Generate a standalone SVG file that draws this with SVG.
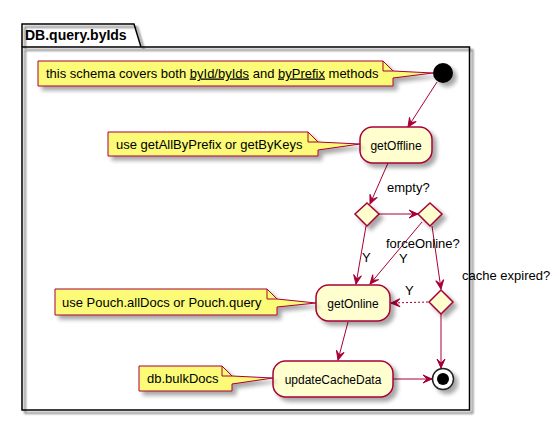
<svg xmlns="http://www.w3.org/2000/svg" width="559" height="423" viewBox="0 0 559 423">
<defs>
<filter id="sh" x="-20%" y="-20%" width="150%" height="160%">
<feGaussianBlur in="SourceAlpha" stdDeviation="2"/>
<feOffset dx="4" dy="4" result="b"/>
<feComponentTransfer><feFuncA type="linear" slope="0.35"/></feComponentTransfer>
<feMerge><feMergeNode/><feMergeNode in="SourceGraphic"/></feMerge>
</filter>
<filter id="shf" x="-5%" y="-5%" width="110%" height="110%">
<feGaussianBlur in="SourceAlpha" stdDeviation="1"/>
<feOffset dx="3" dy="3" result="b"/>
<feComponentTransfer><feFuncA type="linear" slope="0.6"/></feComponentTransfer>
<feMerge><feMergeNode/><feMergeNode in="SourceGraphic"/></feMerge>
</filter>
<marker id="ah" viewBox="-10 -5 11 10" refX="0" refY="0" markerWidth="11" markerHeight="10" markerUnits="userSpaceOnUse" orient="auto">
<path d="M0,0 L-9,-4 L-5,0 L-9,4 Z" fill="#A80036" stroke="#A80036" stroke-width="1"/>
</marker>
</defs>
<style>
text{font-family:"Liberation Sans",Arial,sans-serif;fill:#000}
.act{fill:#FEFECE;stroke:#A80036;stroke-width:1.5}
.note{fill:#FBFB77;stroke:#A80036;stroke-width:1}
.fold{fill:none;stroke:#A80036;stroke-width:1}
.c{fill:none;stroke:#A80036;stroke-width:1}
.dash{stroke-dasharray:2,2}
.t12{font-size:12px}
.t13{font-size:13px}
.u{text-decoration:underline}
</style>
<rect width="559" height="423" fill="#fff"/>
<g id="package">
<path d="M22,47 L22,24 L134,24 L141,47" fill="none" stroke="#000" stroke-width="1.5" filter="url(#shf)"/>
<rect x="22" y="47" width="447.5" height="363" fill="none" stroke="#000" stroke-width="1.5" filter="url(#shf)"/>
<text x="25" y="40" style="font-size:14px;font-weight:bold">DB.query.byIds</text>
</g>
<g id="connectors">
<line class="c" x1="437" y1="82" x2="408" y2="127" marker-end="url(#ah)"/>
<line class="c" x1="388" y1="163" x2="370" y2="204" marker-end="url(#ah)"/>
<line class="c" x1="379" y1="214" x2="418" y2="214" marker-end="url(#ah)"/>
<line class="c" x1="366" y1="226" x2="356" y2="284" marker-end="url(#ah)"/>
<line class="c" x1="422" y1="222" x2="370" y2="284" marker-end="url(#ah)"/>
<line class="c" x1="432" y1="226" x2="441" y2="289" marker-end="url(#ah)"/>
<line class="c dash" x1="428" y1="302" x2="391" y2="303" marker-end="url(#ah)"/>
<line class="c" x1="441" y1="314" x2="441" y2="368" marker-end="url(#ah)"/>
<line class="c" x1="348" y1="322" x2="338" y2="360" marker-end="url(#ah)"/>
<line class="c" x1="393" y1="379" x2="432" y2="379" marker-end="url(#ah)"/>
<text class="t13" x="387" y="192">empty?</text>
<text class="t13" x="362" y="262">Y</text>
<text class="t13" x="386" y="247.5">forceOnline?</text>
<text class="t13" x="399" y="263">Y</text>
<text class="t13" x="462" y="280">cache expired?</text>
<text class="t13" x="405" y="295">Y</text>
</g>
<g id="start">
<circle cx="443" cy="73" r="10" fill="#000" filter="url(#sh)"/>
</g>
<g id="note1">
<path class="note" filter="url(#sh)" d="M38,61 L383,61 L393,71 L433,73 L393,78 L393,86 L38,86 Z"/>
<path class="fold" d="M383,61 L383,71 L393,71"/>
<text class="t13" x="46" y="77.5">this schema covers both <tspan class="u">byId/byIds</tspan> and <tspan class="u">byPrefix</tspan> methods</text>
</g>
<g id="getOffline">
<rect class="act" filter="url(#sh)" x="360" y="127" width="72" height="36" rx="12.5"/>
<text class="t12" x="396" y="149.5" text-anchor="middle">getOffline</text>
</g>
<g id="note2">
<path class="note" filter="url(#sh)" d="M108,132 L308,132 L318,142 L360,144 L318,150 L318,156 L108,156 Z"/>
<path class="fold" d="M308,132 L308,142 L318,142"/>
<text class="t13" x="116" y="149">use getAllByPrefix or getByKeys</text>
</g>
<g id="d1">
<polygon class="act" filter="url(#sh)" points="367,203 379,214 367,226 355,214"/>
</g>
<g id="d2">
<polygon class="act" filter="url(#sh)" points="430,203 442,214 430,226 418,214"/>
</g>
<g id="d3">
<polygon class="act" filter="url(#sh)" points="441,290 453,302 441,314 429,302"/>
</g>
<g id="getOnline">
<rect class="act" filter="url(#sh)" x="316" y="285" width="74" height="36" rx="12.5"/>
<text class="t12" x="353" y="307.5" text-anchor="middle">getOnline</text>
</g>
<g id="note3">
<path class="note" filter="url(#sh)" d="M55,289 L267,289 L277,299 L316,303 L277,307 L277,315 L55,315 Z"/>
<path class="fold" d="M267,289 L267,299 L277,299"/>
<text class="t13" x="62" y="307">use Pouch.allDocs or Pouch.query</text>
</g>
<g id="updateCacheData">
<rect class="act" filter="url(#sh)" x="273" y="361" width="120" height="36" rx="12.5"/>
<text class="t12" x="333" y="383.5" text-anchor="middle">updateCacheData</text>
</g>
<g id="note4">
<path class="note" filter="url(#sh)" d="M139,366 L222,366 L232,376 L273,378 L232,384 L232,391 L139,391 Z"/>
<path class="fold" d="M222,366 L222,376 L232,376"/>
<text class="t13" x="147" y="383">db.bulkDocs</text>
</g>
<g id="end">
<circle cx="443" cy="379" r="10.5" fill="#fff" stroke="#222" stroke-width="1.5" filter="url(#sh)"/>
<circle cx="443" cy="379" r="6" fill="#000"/>
</g>
</svg>
